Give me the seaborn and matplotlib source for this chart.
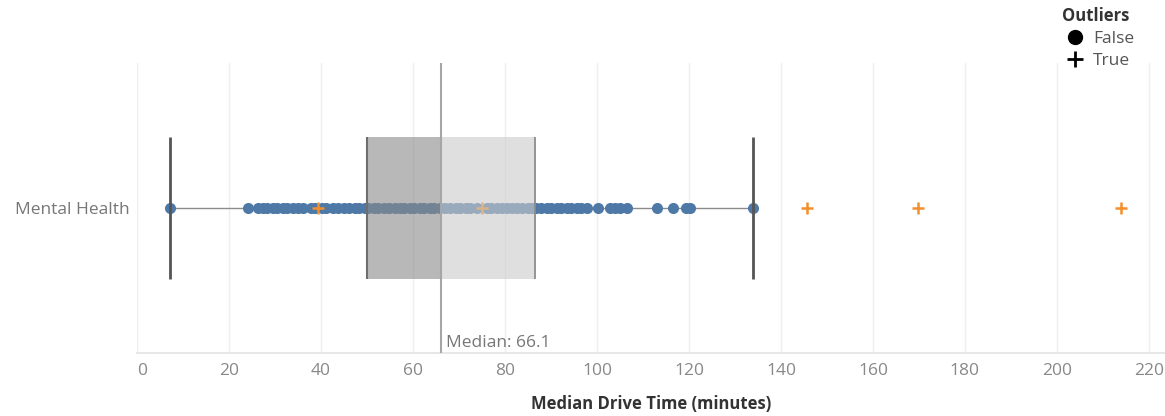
import numpy as np
import pandas as pd
import matplotlib.pyplot as plt
import seaborn as sns
from matplotlib.lines import Line2D

# ---------- data ----------
category = 'Mental Health'

# drive times (minutes) that are not outliers
normal_times = [7.2, 24.1, 26.2, 27.4, 28.3, 29.6, 30.5, 31.8, 32.7, 34.0, 35.1, 36.0,
                37.9, 38.8, 40.2, 41.1, 42.7, 43.8, 45.1, 46.0, 47.3, 48.2, 49.5,
                50.3, 51.6, 52.5, 53.8, 54.7, 56.0, 57.1, 58.0, 59.3, 60.2, 61.5, 62.4,
                63.7, 64.6, 65.9, 67.0, 68.1, 69.4, 70.3, 71.6, 72.5, 74.0, 76.1, 77.0,
                78.3, 79.4, 80.5, 81.6, 82.7, 83.8, 84.9, 85.8,
                86.8, 87.9, 89.1, 90.0, 91.3, 92.2, 93.5, 94.4, 95.7, 96.6, 97.8,
                100.2, 102.8, 104.0, 105.1, 106.6, 113.0, 116.6, 119.3, 120.2, 133.9]
# drive times flagged as outliers
outlier_times = [39.3, 75.0, 145.6, 169.8, 213.9]

# box statistics
whisker_lo = 7.2
q1 = 50.0
median = 66.1
q3 = 86.5
whisker_hi = 133.9

xticks = list(range(0, 221, 20))

blue = '#4e79a7'
orange = '#f28e2b'

df_normal = pd.DataFrame({'time': normal_times, 'cat': category})
df_out = pd.DataFrame({'time': outlier_times, 'cat': category})

# ---------- figure ----------
sns.set_theme(style='white')
plt.rcParams['font.family'] = ['Open Sans', 'DejaVu Sans']

W, H = 1165, 416
fig = plt.figure(figsize=(W / 100, H / 100), dpi=100)
ax = fig.add_axes([137 / W, 63 / H, 1 - 137 / W, 290 / H])

# whisker line behind the dots
ax.hlines(0, whisker_lo, whisker_hi, color='#8c8c8c', lw=1, zorder=2)

sns.stripplot(data=df_normal, x='time', y='cat', jitter=False, color=blue,
              size=8, zorder=3, ax=ax)
sns.stripplot(data=df_out, x='time', y='cat', jitter=False, color=orange,
              marker='+', size=9, linewidth=1.8, zorder=3, ax=ax)

# box (two tone, semi transparent over the dots)
half = 0.49
ax.barh(0, median - q1, left=q1, height=2 * half, color='#8a8a8a', alpha=0.6,
        lw=0, zorder=4)
ax.barh(0, q3 - median, left=median, height=2 * half, color='#cbcbcb', alpha=0.6,
        lw=0, zorder=4)
ax.vlines(q1, -half, half, color='#6e6e6e', lw=1.5, zorder=5)
ax.vlines(q3, -half, half, color='#8c8c8c', lw=1.3, zorder=5)
ax.vlines([whisker_lo, whisker_hi], -half, half, color='#555555', lw=2, zorder=5)

# median reference line
ax.axvline(median, color='#a6a6a6', lw=1.5, zorder=6)
ax.text(median + 1.1, 0.93, f'Median: {median}', color='#777777', fontsize=12.5,
        va='center', ha='left', zorder=7)

ax.set_xlim(0, 223.5)
ax.set_ylim(1, -1)
ax.set_xticks(xticks)
ax.grid(axis='x', color='#efefef', lw=1)
ax.grid(axis='y', visible=False)
ax.set_axisbelow(True)

for s in ['top', 'right', 'left']:
    ax.spines[s].set_visible(False)
ax.spines['bottom'].set_color('#e4e4e4')

ax.tick_params(axis='x', length=0, labelcolor='#888888', labelsize=12.5, pad=7)
ax.tick_params(axis='y', length=0, labelcolor='#777777', labelsize=12.5, pad=5)
ax.get_xticklabels()[0].set_ha('left')

ax.set_xlabel('Median Drive Time (minutes)', fontsize=12, fontweight='bold',
              color='#333333', labelpad=12)
ax.set_ylabel('')

handles = [Line2D([], [], marker='o', color='black', ls='', markersize=10, label='False'),
           Line2D([], [], marker='+', color='black', ls='', markersize=11, mew=2,
                  label='True')]
leg = fig.legend(handles=handles, title='Outliers', loc='upper left',
                 bbox_to_anchor=(1062 / W, 1 - 7 / H), frameon=False,
                 title_fontproperties={'weight': 'bold', 'size': 12}, fontsize=12.5,
                 handletextpad=0.3, handlelength=1.5, labelspacing=0.35,
                 borderaxespad=0, borderpad=0, alignment='left')
leg.get_title().set_color('#333333')
for t in leg.get_texts():
    t.set_color('#555555')

fig.savefig('out.png', dpi=100)
